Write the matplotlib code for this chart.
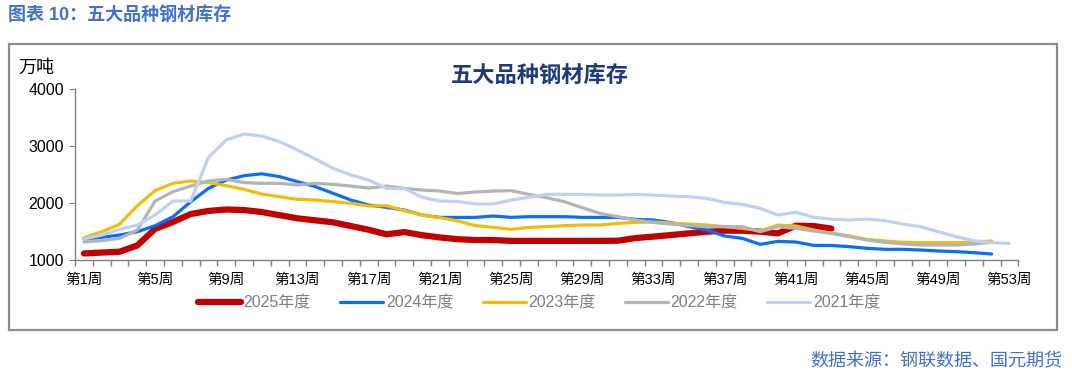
import matplotlib
matplotlib.use("Agg")
import matplotlib.pyplot as plt
from matplotlib.patches import Rectangle
import numpy as np

plt.rcParams['font.family'] = ['Liberation Sans', 'Noto Sans CJK SC', 'DejaVu Sans']

weeks = np.arange(1, 54)
week_labels = [f"第{w}周" for w in range(1, 54, 4)]

y2025 = [1120, 1135, 1150, 1260, 1550, 1670, 1810, 1865, 1890, 1880,
         1845, 1790, 1735, 1700, 1665, 1600, 1535, 1455, 1495, 1440,
         1400, 1370, 1355, 1355, 1340, 1340, 1340, 1340, 1340, 1340,
         1343, 1390, 1415, 1443, 1472, 1501, 1519, 1519, 1501, 1472,
         1606, 1600, 1555]
y2024 = [1373, 1402, 1443, 1500, 1606, 1762, 2025, 2260, 2405, 2482,
         2515, 2465, 2377, 2290, 2173, 2056, 1968, 1927, 1880, 1793,
         1752, 1750, 1752, 1776, 1752, 1764, 1764, 1764, 1752, 1752,
         1752, 1717, 1706, 1659, 1589, 1531, 1425, 1384, 1279, 1332,
         1320, 1262, 1260, 1239, 1210, 1192, 1192, 1180, 1163, 1151,
         1134, 1110]
y2023 = [1395, 1500, 1630, 1955, 2220, 2348, 2389, 2360, 2307, 2243,
         2160, 2114, 2067, 2056, 2027, 1998, 1951, 1957, 1870, 1793,
         1747, 1690, 1607, 1577, 1542, 1577, 1589, 1607, 1618, 1618,
         1647, 1664, 1670, 1653, 1635, 1618, 1589, 1560, 1519, 1618,
         1600, 1531, 1475, 1426, 1367, 1338, 1315, 1309, 1309, 1309,
         1321, 1338]
y2022 = [1325, 1343, 1384, 1530, 2038, 2201, 2300, 2389, 2418, 2360,
         2348, 2348, 2319, 2348, 2330, 2300, 2265, 2300, 2260, 2231,
         2213, 2170, 2196, 2213, 2219, 2155, 2096, 2026, 1921, 1822,
         1764, 1706, 1662, 1635, 1607, 1589, 1589, 1589, 1501, 1589,
         1560, 1513, 1472, 1414, 1355, 1315, 1286, 1268, 1268, 1268,
         1286, 1315]
y2021 = [1373, 1443, 1542, 1618, 1793, 2038, 2038, 2803, 3107, 3212,
         3175, 3078, 2932, 2775, 2611, 2494, 2406, 2260, 2260, 2103,
         2038, 2030, 1986, 1986, 2056, 2102, 2155, 2155, 2155, 2143,
         2143, 2155, 2143, 2125, 2114, 2084, 2014, 1980, 1909, 1793,
         1840, 1752, 1720, 1706, 1723, 1694, 1636, 1589, 1502, 1413,
         1344, 1309, 1297]

series = [
    ("2025年度", y2025, "#C00000", 4.5),
    ("2024年度", y2024, "#0A6FF0", 2.3),
    ("2023年度", y2023, "#F0BE0A", 2.3),
    ("2022年度", y2022, "#B4B4B4", 2.3),
    ("2021年度", y2021, "#BFCFF5", 2.3),
]

W, H = 1072, 379
fig = plt.figure(figsize=(W / 100, H / 100), dpi=100)

# outer frame
fig.patches.append(Rectangle((9 / W, 1 - 329.5 / H), (1056.5 - 9) / W, (329.5 - 44) / H,
                             transform=fig.transFigure, fill=False,
                             edgecolor="#8C8C8C", linewidth=1.6))

fig.text(8 / W, 1 - 16 / H, "图表 10：五大品种钢材库存", fontsize=13, fontweight="bold",
         color="#4472C4", va="center", ha="left")
fig.text(1062 / W, 1 - 362 / H, "数据来源：钢联数据、国元期货", fontsize=13,
         color="#4472C4", va="center", ha="right")
fig.text(18 / W, 1 - 68 / H, "万吨", fontsize=13, va="center", ha="left",
         family=['Noto Sans CJK SC'])
fig.text(540 / W, 1 - 75 / H, "五大品种钢材库存", fontsize=16, fontweight="bold",
         color="#1F3A78", va="center", ha="center", family=['Noto Sans CJK SC'])

ax = fig.add_axes([75 / W, 1 - 260.3 / H, (1018.3 - 75) / W, (260.3 - 89) / H])
for i, (name, vals, col, lw) in enumerate(series):
    ax.plot(weeks[:len(vals)], vals, color=col, linewidth=lw, label=name,
            solid_capstyle="round", solid_joinstyle="round", zorder=2 + i)

ax.set_xlim(0.5, 53.5)
ax.set_ylim(1000, 4000)
ax.set_yticks([1000, 2000, 3000, 4000])
ax.set_xticks(np.arange(1, 54, 4))
ax.set_xticklabels(week_labels, fontsize=10.5)
ax.set_xticks(np.arange(0.5, 54, 1), minor=True)
ax.tick_params(axis="x", which="major", length=0, pad=9)
ax.tick_params(axis="x", which="minor", length=4, color="#808080", width=1)
ax.tick_params(axis="y", length=4, color="#808080", labelsize=11.5, pad=4)
for s in ["top", "right"]:
    ax.spines[s].set_visible(False)
for s in ["left", "bottom"]:
    ax.spines[s].set_color("#808080")
    ax.spines[s].set_linewidth(1)

leg = fig.legend(loc="center", bbox_to_anchor=(539 / W, 1 - 303 / H), ncol=5,
                 frameon=False, fontsize=11.5, handlelength=2.7, handletextpad=0.15,
                 columnspacing=1.85)
for t in leg.get_texts():
    t.set_color("#7F7F7F")

fig.savefig("out.png", dpi=100)
